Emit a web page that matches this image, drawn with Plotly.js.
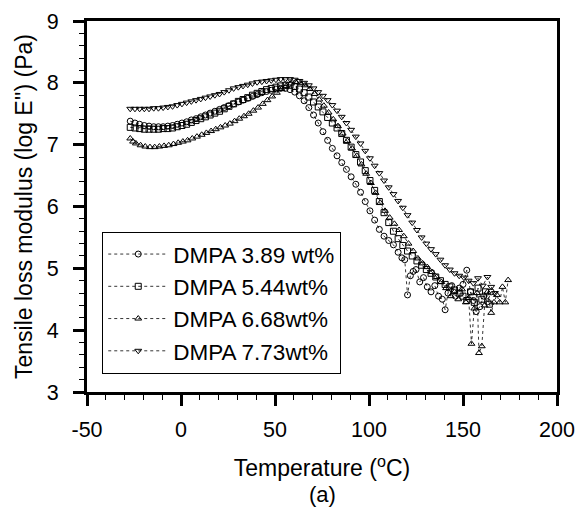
<!DOCTYPE html>
<html>
<head>
<meta charset="utf-8">
<script src="https://cdn.plot.ly/plotly-3.0.1.min.js"></script>
<style>html,body{margin:0;padding:0;background:#fff;}#chart{width:578px;height:508px;}</style>
</head>
<body>
<div id="chart"></div>
<script>
// Series names
const names = ["DMPA 3.89 wt%", "DMPA 5.44wt%", "DMPA 6.68wt%", "DMPA 7.73wt%"];

// Tick labels
const xTickVals = [-50, 0, 50, 100, 150, 200];
const xTickText = ["-50", "0", "50", "100", "150", "200"];
const yTickVals = [3, 4, 5, 6, 7, 8, 9];
const yTickText = ["3", "4", "5", "6", "7", "8", "9"];

// DMPA 3.89 wt% (circles)
const x389 = [-27,-24.5,-22,-19.5,-17,-14.5,-12,-9.5,-7,-4.5,-2,0.5,3,5.5,8,10.5,13,15.5,18,20.5,23,25.5,28,30.5,33,35.5,38,40.5,43,45.5,48,50.5,53,55.5,58,60.5,63,65.5,68,70.5,73,75.5,78,80.5,83,85.5,88,90.5,93,95.5,98,100.5,103,105.5,108,110.5,113,115.5,117.5,119,120.5,122,123.5,125,127,129,131,133,135,137,139,140.5,142,144,146,148,150,152,154,155.5,157,159,161,163,165];
const y389 = [7.38,7.35,7.33,7.31,7.30,7.29,7.29,7.29,7.30,7.31,7.33,7.35,7.37,7.40,7.42,7.45,7.48,7.51,7.54,7.57,7.60,7.63,7.66,7.69,7.72,7.75,7.78,7.81,7.84,7.86,7.88,7.90,7.91,7.91,7.89,7.85,7.79,7.71,7.60,7.48,7.35,7.21,7.07,6.94,6.82,6.71,6.60,6.48,6.36,6.23,6.08,5.93,5.78,5.63,5.52,5.45,5.38,5.26,5.17,5.14,4.57,4.88,4.95,4.98,4.78,4.85,4.70,4.62,4.72,4.55,4.50,4.33,4.60,4.72,4.55,4.68,4.74,4.97,4.62,4.48,4.30,4.38,4.55,4.46,4.62];

// DMPA 5.44wt% (squares)
const x544 = [-27,-24.5,-22,-19.5,-17,-14.5,-12,-9.5,-7,-4.5,-2,0.5,3,5.5,8,10.5,13,15.5,18,20.5,23,25.5,28,30.5,33,35.5,38,40.5,43,45.5,48,50.5,53,55.5,58,60.5,63,65.5,68,70.5,73,75.5,78,80.5,83,85.5,88,90.5,93,95.5,98,100.5,103,105.5,108,110.5,113,115.5,118,120.5,123,125.5,128,130.5,133,135.5,138,140.5,143,145.5,148,150,152,154,156,158,160,162,164];
const y544 = [7.28,7.27,7.26,7.25,7.25,7.25,7.25,7.26,7.26,7.27,7.29,7.31,7.33,7.36,7.39,7.42,7.45,7.48,7.51,7.54,7.58,7.62,7.66,7.70,7.73,7.76,7.80,7.83,7.86,7.89,7.91,7.93,7.95,7.96,7.96,7.94,7.90,7.84,7.77,7.69,7.61,7.53,7.44,7.35,7.27,7.18,7.07,6.96,6.84,6.72,6.58,6.42,6.26,6.08,5.90,5.74,5.60,5.48,5.37,5.28,5.20,5.12,5.05,4.98,4.92,4.86,4.80,4.74,4.70,4.65,4.60,4.55,4.48,4.62,4.45,4.68,4.50,4.62,4.42];

// DMPA 6.68wt% (up triangles)
const x668 = [-27,-25.5,-24,-21.5,-19,-16.5,-14,-11.5,-9,-6.5,-4,-1.5,1,3.5,6,8.5,11,13.5,16,18.5,21,23.5,26,28.5,31,33.5,36,38.5,41,43.5,46,48.5,51,53.5,56,58.5,61,63.5,66,68.5,71,73.5,76,78.5,81,83.5,86,88.5,91,93.5,96,98.5,101,103.5,106,108.5,111,113.5,116,118.5,121,123.5,126,128.5,131,133.5,136,138.5,141,143.5,145.5,147.5,149.5,151.5,153,154.5,156,157.5,158.5,160,161.5,163,165,166.5,168,169.5,171,172.5,174];
const y668 = [7.10,7.05,7.02,6.99,6.97,6.96,6.96,6.97,6.98,6.99,7.01,7.03,7.05,7.07,7.10,7.13,7.16,7.19,7.22,7.25,7.28,7.31,7.34,7.38,7.42,7.46,7.50,7.55,7.60,7.66,7.72,7.78,7.84,7.90,7.95,7.99,8.01,8.00,7.96,7.90,7.82,7.73,7.63,7.52,7.41,7.30,7.18,7.06,6.94,6.82,6.68,6.53,6.38,6.22,6.06,5.93,5.82,5.72,5.62,5.52,5.40,5.28,5.16,5.08,5.02,4.94,4.86,4.78,4.68,4.55,4.62,4.50,4.66,4.45,4.52,3.78,4.35,4.60,3.63,3.74,4.40,4.62,4.28,4.45,4.57,4.45,4.70,4.45,4.81];

// DMPA 7.73wt% (down triangles)
const x773 = [-27,-24.5,-22,-19.5,-17,-14.5,-12,-9.5,-7,-4.5,-2,0.5,3,5.5,8,10.5,13,15.5,18,20.5,23,25.5,28,30.5,33,35.5,38,40.5,43,45.5,48,50.5,53,55.5,58,60.5,63,65.5,68,70.5,73,75.5,78,80.5,83,85.5,88,90.5,93,95.5,98,100.5,103,105.5,108,110.5,113,115.5,118,120.5,123,125.5,128,130.5,133,135.5,138,140.5,143,145.5,148,150.5,153,155.5,158,160.5,163,165,167];
const y773 = [7.58,7.58,7.58,7.58,7.58,7.59,7.59,7.60,7.61,7.62,7.64,7.66,7.68,7.70,7.72,7.74,7.76,7.78,7.80,7.82,7.85,7.88,7.91,7.93,7.95,7.97,7.99,8.01,8.02,8.03,8.04,8.05,8.06,8.06,8.06,8.05,8.03,8.00,7.96,7.91,7.85,7.79,7.72,7.64,7.55,7.45,7.35,7.24,7.13,7.02,6.90,6.78,6.66,6.54,6.42,6.31,6.20,6.09,5.98,5.86,5.74,5.62,5.50,5.40,5.31,5.23,5.14,5.05,4.98,4.92,4.88,4.85,4.80,4.76,4.84,4.72,4.86,4.70,4.60];

const xs = [x389, x544, x668, x773];
const ys = [y389, y544, y668, y773];
const symbols = ["circle-open", "square-open", "triangle-up-open", "triangle-down-open"];

const traces = xs.map((x, i) => ({
  type: "scatter",
  mode: "lines+markers",
  x: x,
  y: ys[i],
  name: names[i],
  line: {color: "#000", width: 0.8, dash: "dot"},
  marker: {symbol: symbols[i], size: 6, color: "#000", line: {color: "#000", width: 1}}
}));

const fam = "Liberation Sans, Arial, sans-serif";
const f = (s) => ({family: fam, size: s, color: "#000"});

const layout = {
  width: 578, height: 508,
  margin: {l: 87, r: 21, t: 21, b: 116},
  paper_bgcolor: "#fff", plot_bgcolor: "#fff",
  font: f(21),
  showlegend: true,
  legend: {
    x: 0.032, y: 0.432, xanchor: "left", yanchor: "top",
    bordercolor: "#000", borderwidth: 1.2, bgcolor: "#fff",
    font: f(22.5),
    itemwidth: 60, tracegroupgap: 0
  },
  xaxis: {
    range: [-50, 200], tickmode: "array", tickvals: xTickVals, ticktext: xTickText,
    showgrid: false, zeroline: false,
    showline: true, linecolor: "#000", linewidth: 3, mirror: true,
    ticks: "outside", ticklen: 11, tickwidth: 3, tickcolor: "#000",
    minor: {dtick: 10, tick0: 0, ticks: "outside", ticklen: 5, tickwidth: 1, tickcolor: "#000", showgrid: false},
    tickfont: f(21.5), ticklabelstandoff: 5,
    title: {text: "Temperature (<sup>o</sup>C)", font: f(23), standoff: 20}
  },
  yaxis: {
    range: [3, 9], tickmode: "array", tickvals: yTickVals, ticktext: yTickText,
    showgrid: false, zeroline: false,
    showline: true, linecolor: "#000", linewidth: 3, mirror: true,
    ticks: "outside", ticklen: 11, tickwidth: 3, tickcolor: "#000",
    minor: {dtick: 0.2, tick0: 3, ticks: "outside", ticklen: 5, tickwidth: 1, tickcolor: "#000", showgrid: false},
    tickfont: f(21.5), ticklabelstandoff: 10,
    title: {text: "Tensile loss modulus (log E'') (Pa)", font: f(23), standoff: 8}
  },
  annotations: [{
    text: "(a)", xref: "paper", yref: "paper", x: 0.5, y: 0, yshift: -102,
    xanchor: "center", yanchor: "middle", showarrow: false,
    font: f(22)
  }]
};

Plotly.newPlot("chart", traces, layout, {displayModeBar: false, staticPlot: true});
</script>
</body>
</html>
